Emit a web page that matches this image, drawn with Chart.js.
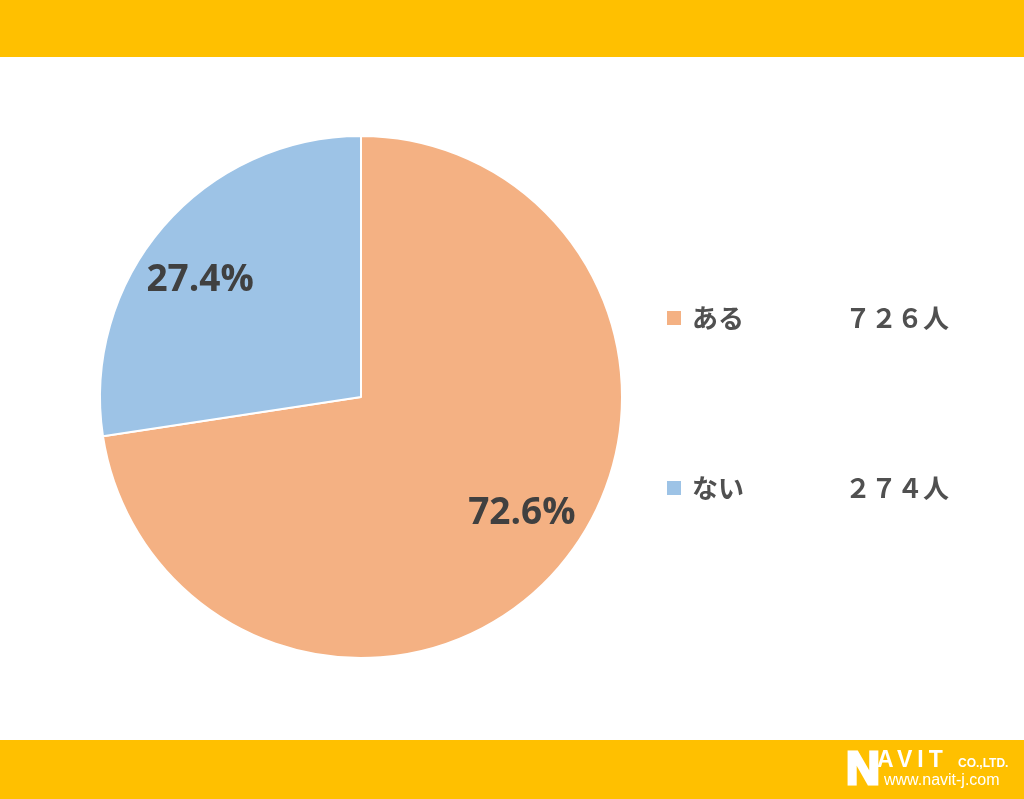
<!DOCTYPE html>
<html>
<head>
<meta charset="utf-8">
<script src="https://cdn.jsdelivr.net/npm/chart.js@4/dist/chart.umd.min.js"></script>
<style>
  html, body { margin: 0; padding: 0; background: #fff; }
  #wrap { width: 1024px; height: 799px; position: relative; }
</style>
</head>
<body>
<div id="wrap"><canvas id="pie" width="1024" height="799"></canvas></div>
<script>
// data
const categories = ['ある', 'ない'];
const counts = [726, 274];
const unitLabel = '人';

const sliceColors = ['#F4B183', '#9DC3E6'];
const total = counts.reduce((a, b) => a + b, 0);

// 726 -> ７２６ (full width digits like the original)
function fullWidth(n) {
  return String(n).replace(/[0-9]/g, d => String.fromCharCode(d.charCodeAt(0) + 0xFEE0));
}

const decor = {
  id: 'decor',
  beforeDraw(chart) {
    const { ctx, width, height } = chart;
    ctx.save();
    ctx.fillStyle = '#ffffff';
    ctx.fillRect(0, 0, width, height);
    ctx.fillStyle = '#FFC000';
    ctx.fillRect(0, 0, width, 57);
    ctx.fillRect(0, 740, width, height - 740);

    // logo
    ctx.fillStyle = '#ffffff';
    ctx.textBaseline = 'alphabetic';
    ctx.font = '900 47px "Liberation Sans"';
    ctx.lineWidth = 3;
    ctx.strokeStyle = '#ffffff';
    ctx.strokeText('N', 846, 784);
    ctx.fillText('N', 846, 784);
    ctx.font = 'bold 23px "Liberation Sans"';
    ctx.letterSpacing = '5px';
    ctx.fillText('AVIT', 877, 767);
    ctx.letterSpacing = '0px';
    ctx.font = 'bold 12px "Liberation Sans"';
    ctx.fillText('CO.,LTD.', 958, 767);
    ctx.font = '16px "Liberation Sans"';
    ctx.fillText('www.navit-j.com', 884, 785);
    ctx.restore();
  },
  afterDatasetsDraw(chart) {
    const { ctx } = chart;
    const meta = chart.getDatasetMeta(0);
    ctx.save();
    ctx.fillStyle = '#404040';
    ctx.font = 'bold 37px "Open Sans"';
    ctx.textAlign = 'center';
    ctx.textBaseline = 'middle';
    meta.data.forEach((arc, i) => {
      const p = arc.getProps(['x', 'y', 'startAngle', 'endAngle', 'outerRadius'], true);
      const mid = (p.startAngle + p.endAngle) / 2 - 0.085;
      const r = p.outerRadius * 0.76;
      const pct = (counts[i] / total * 100).toFixed(1) + '%';
      ctx.fillText(pct, p.x + Math.cos(mid) * r, p.y + Math.sin(mid) * r);
    });
    ctx.restore();
  },
  afterDraw(chart) {
    const { ctx } = chart;
    ctx.save();
    ctx.textBaseline = 'middle';
    categories.forEach((cat, i) => {
      const y = 318 + i * 170;
      ctx.fillStyle = sliceColors[i];
      ctx.fillRect(667, y - 7, 14, 14);
      ctx.fillStyle = '#505050';
      ctx.font = 'bold 26px "Noto Sans CJK JP"';
      ctx.textAlign = 'left';
      ctx.fillText(cat, 692, y);
      ctx.fillText(fullWidth(counts[i]) + unitLabel, 845, y);
    });
    ctx.restore();
  }
};

new Chart(document.getElementById('pie'), {
  type: 'pie',
  data: {
    labels: categories,
    datasets: [{
      data: counts,
      backgroundColor: sliceColors,
      borderColor: '#ffffff',
      borderWidth: 2
    }]
  },
  options: {
    responsive: false,
    animation: false,
    layout: { padding: { left: 99, top: 135, right: 401, bottom: 140 } },
    plugins: {
      legend: { display: false },
      tooltip: { enabled: false }
    }
  },
  plugins: [decor]
});
</script>
</body>
</html>
